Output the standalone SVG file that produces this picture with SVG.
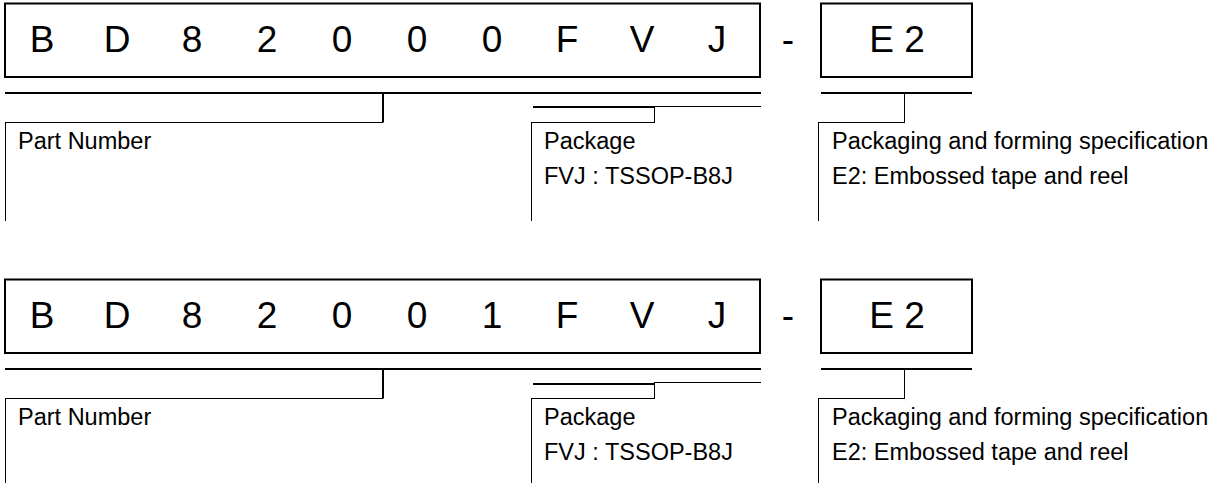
<svg xmlns="http://www.w3.org/2000/svg" width="1227" height="483" viewBox="0 0 1227 483">
<style>
.box{fill:#fff;stroke:#000;stroke-width:2}
.big{font-family:"Liberation Sans",Arial,sans-serif;font-size:37px;fill:#000;text-anchor:middle}
.lbl{font-family:"Liberation Sans",Arial,sans-serif;font-size:23.5px;fill:#000}
.thick{fill:none;stroke:#000;stroke-width:2}
.thin{fill:none;stroke:#000;stroke-width:1}
</style>
<rect width="1227" height="483" fill="#fff"/>
<g id="section1">
<g id="part1">
<rect class="box" x="5" y="3.5" width="755" height="73.5"/>
<text class="big" y="52"><tspan x="42">B</tspan><tspan x="117">D</tspan><tspan x="192">8</tspan><tspan x="267">2</tspan><tspan x="342">0</tspan><tspan x="417">0</tspan><tspan x="492">0</tspan><tspan x="567">F</tspan><tspan x="642">V</tspan><tspan x="717">J</tspan></text>
</g>
<text id="dash1" class="big" x="788" y="52">-</text>
<g id="suffix1">
<rect class="box" x="821" y="3.5" width="151" height="73.5"/>
<text class="big" x="897" y="52">E 2</text>
</g>
<g id="connectors1">
<line class="thick" x1="5" y1="93" x2="761" y2="93"/>
<line class="thick" x1="383" y1="93" x2="383" y2="122.5"/>
<line class="thin" x1="5" y1="122.5" x2="383" y2="122.5"/>
<line class="thin" x1="5.5" y1="122" x2="5.5" y2="221"/>
<line class="thick" x1="533" y1="107" x2="655" y2="107"/>
<line class="thin" x1="655" y1="106.5" x2="761" y2="106.5"/>
<line class="thin" x1="654.5" y1="106" x2="654.5" y2="122.5"/>
<line class="thin" x1="531" y1="122.5" x2="655" y2="122.5"/>
<line class="thin" x1="531.5" y1="122" x2="531.5" y2="221"/>
<line class="thick" x1="821" y1="93" x2="972" y2="93"/>
<line class="thin" x1="904.5" y1="93" x2="904.5" y2="122.5"/>
<line class="thin" x1="818" y1="122.5" x2="905" y2="122.5"/>
<line class="thin" x1="818.5" y1="122" x2="818.5" y2="221"/>
</g>
<g id="labels1">
<text class="lbl" x="18" y="149">Part Number</text>
<text class="lbl" x="544" y="149">Package</text>
<text class="lbl" x="544" y="184">FVJ : TSSOP-B8J</text>
<text class="lbl" x="832" y="149">Packaging and forming specification</text>
<text class="lbl" x="832" y="184">E2: Embossed tape and reel</text>
</g>
</g>
<g id="section2">
<g id="part2">
<rect class="box" x="5" y="279.5" width="755" height="73.5"/>
<text class="big" y="328"><tspan x="42">B</tspan><tspan x="117">D</tspan><tspan x="192">8</tspan><tspan x="267">2</tspan><tspan x="342">0</tspan><tspan x="417">0</tspan><tspan x="492">1</tspan><tspan x="567">F</tspan><tspan x="642">V</tspan><tspan x="717">J</tspan></text>
</g>
<text id="dash2" class="big" x="788" y="328">-</text>
<g id="suffix2">
<rect class="box" x="821" y="279.5" width="151" height="73.5"/>
<text class="big" x="897" y="328">E 2</text>
</g>
<g id="connectors2">
<line class="thick" x1="5" y1="369" x2="761" y2="369"/>
<line class="thick" x1="383" y1="369" x2="383" y2="398.5"/>
<line class="thin" x1="5" y1="398.5" x2="383" y2="398.5"/>
<line class="thin" x1="5.5" y1="398" x2="5.5" y2="483"/>
<line class="thick" x1="533" y1="384" x2="655" y2="384"/>
<line class="thin" x1="655" y1="382.5" x2="761" y2="382.5"/>
<line class="thin" x1="654.5" y1="382" x2="654.5" y2="398.5"/>
<line class="thin" x1="531" y1="398.5" x2="655" y2="398.5"/>
<line class="thin" x1="531.5" y1="398" x2="531.5" y2="483"/>
<line class="thick" x1="821" y1="369" x2="972" y2="369"/>
<line class="thin" x1="904.5" y1="369" x2="904.5" y2="398.5"/>
<line class="thin" x1="818" y1="398.5" x2="905" y2="398.5"/>
<line class="thin" x1="818.5" y1="398" x2="818.5" y2="483"/>
</g>
<g id="labels2">
<text class="lbl" x="18" y="425">Part Number</text>
<text class="lbl" x="544" y="425">Package</text>
<text class="lbl" x="544" y="460">FVJ : TSSOP-B8J</text>
<text class="lbl" x="832" y="425">Packaging and forming specification</text>
<text class="lbl" x="832" y="460">E2: Embossed tape and reel</text>
</g>
</g>
</svg>
